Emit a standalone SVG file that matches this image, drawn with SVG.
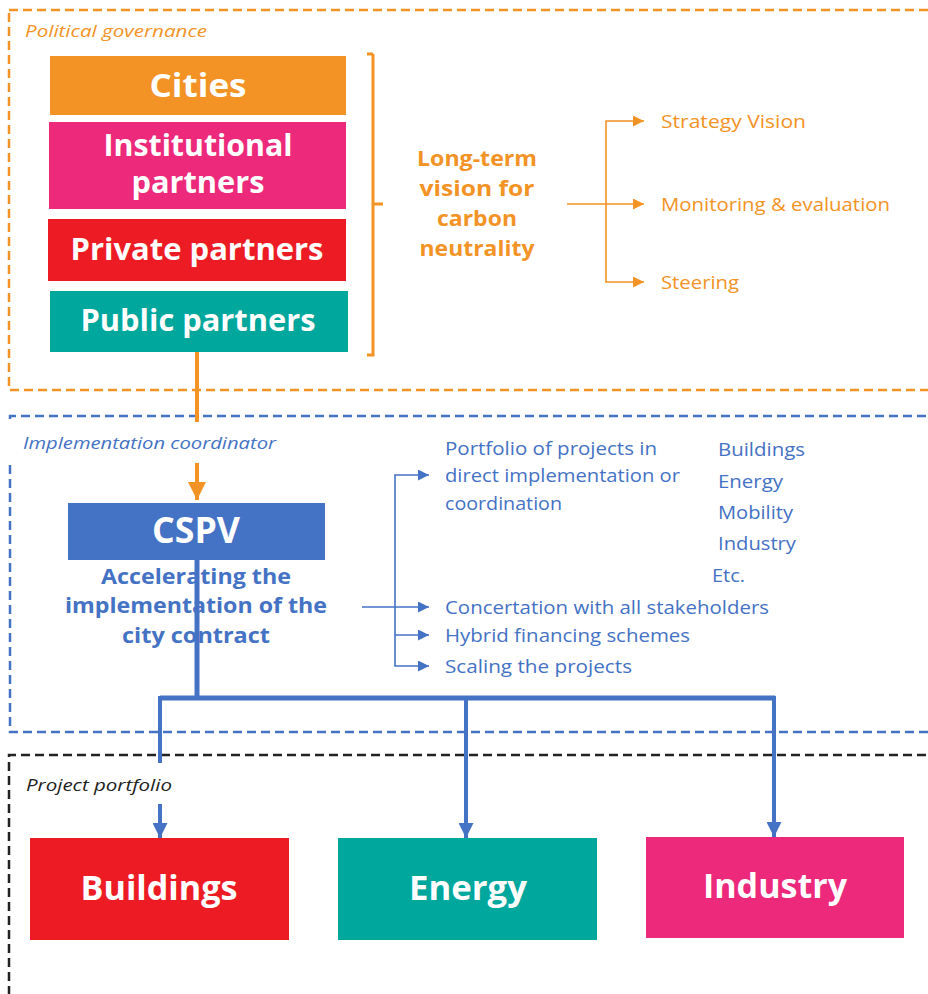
<svg xmlns="http://www.w3.org/2000/svg" width="928" height="994" viewBox="0 0 928 994">
<style>
.bx{font-family:"Open Sans","Liberation Sans",sans-serif;font-weight:700;fill:#fff;text-anchor:middle}
.lbl{font-family:"Open Sans","Liberation Sans",sans-serif;font-style:italic;font-size:17px}
.t{font-family:"Open Sans","Liberation Sans",sans-serif;font-size:18.5px}
.tb{font-family:"Open Sans","Liberation Sans",sans-serif;font-size:21px;font-weight:700;text-anchor:middle}
.or{fill:#f39325}
.bl{fill:#4472c4}
.dash{fill:none;stroke-width:2.5;stroke-dasharray:9 5}
</style>
<defs>
<marker id="ao" viewBox="0 0 10 10" refX="10" refY="5" markerWidth="11" markerHeight="11" markerUnits="userSpaceOnUse" orient="auto-start-reverse"><path d="M0,0 L10,5 L0,10 z" fill="#f39325"/></marker>
<marker id="ab" viewBox="0 0 10 10" refX="10" refY="5" markerWidth="11" markerHeight="11" markerUnits="userSpaceOnUse" orient="auto-start-reverse"><path d="M0,0 L10,5 L0,10 z" fill="#4472c4"/></marker>
<marker id="aob" viewBox="0 0 10 10" refX="10" refY="5" markerWidth="18" markerHeight="18" markerUnits="userSpaceOnUse" orient="auto"><path d="M0,0 L10,5 L0,10 z" fill="#f39325"/></marker>
<marker id="abb" viewBox="0 0 10 10" refX="10" refY="5" markerWidth="15" markerHeight="15" markerUnits="userSpaceOnUse" orient="auto"><path d="M0,0 L10,5 L0,10 z" fill="#4472c4"/></marker>
</defs>

<!-- containers -->
<g id="political-governance">
<rect x="9" y="10" width="935" height="380" class="dash" stroke="#f39325"/>
<text x="25" y="37" class="lbl or" textLength="182" lengthAdjust="spacingAndGlyphs">Political governance</text>
</g>
<g id="implementation-coordinator">
<path d="M940 416 H10 V422 M10 465 V732 H940" class="dash" stroke="#4472c4"/>
<text x="23" y="449" class="lbl bl" textLength="253" lengthAdjust="spacingAndGlyphs">Implementation coordinator</text>
</g>
<g id="project-portfolio">
<path d="M940 755 H9 V1000" class="dash" stroke="#222"/>
<text x="26" y="791" class="lbl" fill="#222" textLength="146" lengthAdjust="spacingAndGlyphs">Project portfolio</text>
</g>

<!-- connectors -->
<g id="connectors" fill="none">
<path d="M197 352 V422" stroke="#f39325" stroke-width="4"/>
<path d="M197 463 V500" stroke="#f39325" stroke-width="4" marker-end="url(#aob)"/>
<path d="M373 54 H367 M373 54 V355 H367 M373 204 H383" stroke="#f39325" stroke-width="3"/>
<path d="M567 204 H644" stroke="#f39325" stroke-width="1.6" marker-end="url(#ao)"/>
<path d="M644 121 H606 V282 H644" stroke="#f39325" stroke-width="1.6" marker-end="url(#ao)" marker-start="url(#ao)"/>
<path d="M362 607 H429" stroke="#4472c4" stroke-width="1.6" marker-end="url(#ab)"/>
<path d="M429 475 H395 V666 H429" stroke="#4472c4" stroke-width="1.6" marker-end="url(#ab)" marker-start="url(#ab)"/>
<path d="M395 635 H429" stroke="#4472c4" stroke-width="1.6" marker-end="url(#ab)"/>
<path d="M197 560 V698" stroke="#4472c4" stroke-width="5"/>
<path d="M160 698 H775" stroke="#4472c4" stroke-width="5"/>
<path d="M160 696 V763" stroke="#4472c4" stroke-width="4"/>
<path d="M160 804 V838" stroke="#4472c4" stroke-width="4" marker-end="url(#abb)"/>
<path d="M466 696 V838" stroke="#4472c4" stroke-width="4" marker-end="url(#abb)"/>
<path d="M774 696 V837" stroke="#4472c4" stroke-width="4" marker-end="url(#abb)"/>
</g>

<!-- nodes -->
<g id="cities">
<rect x="50" y="56" width="296" height="59" fill="#f39325"/>
<text x="198" y="97" class="bx" font-size="33" textLength="97" lengthAdjust="spacingAndGlyphs">Cities</text>
</g>
<g id="institutional-partners">
<rect x="49" y="122" width="297" height="87" fill="#ec297b"/>
<text x="198" y="156" class="bx" font-size="30" textLength="189" lengthAdjust="spacingAndGlyphs">Institutional</text>
<text x="198" y="193" class="bx" font-size="30" textLength="133" lengthAdjust="spacingAndGlyphs">partners</text>
</g>
<g id="private-partners">
<rect x="48" y="219" width="298" height="62" fill="#ed1c24"/>
<text x="197" y="260" class="bx" font-size="30" textLength="253" lengthAdjust="spacingAndGlyphs">Private partners</text>
</g>
<g id="public-partners">
<rect x="50" y="291" width="298" height="61" fill="#00a79d"/>
<text x="198" y="331" class="bx" font-size="30" textLength="235" lengthAdjust="spacingAndGlyphs">Public partners</text>
</g>

<g id="long-term-vision">
<text x="477" y="166" class="tb or" textLength="120" lengthAdjust="spacingAndGlyphs">Long-term</text>
<text x="477" y="196" class="tb or" textLength="115" lengthAdjust="spacingAndGlyphs">vision for</text>
<text x="477" y="226" class="tb or" textLength="80" lengthAdjust="spacingAndGlyphs">carbon</text>
<text x="477" y="256" class="tb or" textLength="115" lengthAdjust="spacingAndGlyphs">neutrality</text>
</g>
<g id="strategy-vision"><text x="661" y="128" class="t or" textLength="145" lengthAdjust="spacingAndGlyphs">Strategy Vision</text></g>
<g id="monitoring"><text x="661" y="211" class="t or" textLength="229" lengthAdjust="spacingAndGlyphs">Monitoring &amp; evaluation</text></g>
<g id="steering"><text x="661" y="289" class="t or" textLength="78" lengthAdjust="spacingAndGlyphs">Steering</text></g>

<g id="cspv">
<rect x="68" y="503" width="257" height="57" fill="#4472c4"/>
<text x="196" y="543" class="bx" font-size="35" textLength="88" lengthAdjust="spacingAndGlyphs">CSPV</text>
</g>
<g id="accelerating">
<text x="196" y="584" class="tb bl" textLength="190" lengthAdjust="spacingAndGlyphs">Accelerating the</text>
<text x="196" y="613" class="tb bl" textLength="262" lengthAdjust="spacingAndGlyphs">implementation of the</text>
<text x="196" y="643" class="tb bl" textLength="148" lengthAdjust="spacingAndGlyphs">city contract</text>
</g>

<g id="portfolio-text">
<text x="445" y="455" class="t bl" textLength="212" lengthAdjust="spacingAndGlyphs">Portfolio of projects in</text>
<text x="445" y="482" class="t bl" textLength="235" lengthAdjust="spacingAndGlyphs">direct implementation or</text>
<text x="445" y="510" class="t bl" textLength="117" lengthAdjust="spacingAndGlyphs">coordination</text>
</g>
<g id="sector-list">
<text x="718" y="456" class="t bl" textLength="87" lengthAdjust="spacingAndGlyphs">Buildings</text>
<text x="718" y="488" class="t bl" textLength="65" lengthAdjust="spacingAndGlyphs">Energy</text>
<text x="718" y="519" class="t bl" textLength="75" lengthAdjust="spacingAndGlyphs">Mobility</text>
<text x="718" y="550" class="t bl" textLength="78" lengthAdjust="spacingAndGlyphs">Industry</text>
<text x="712" y="582" class="t bl" textLength="33" lengthAdjust="spacingAndGlyphs">Etc.</text>
</g>
<g id="concertation"><text x="445" y="614" class="t bl" textLength="324" lengthAdjust="spacingAndGlyphs">Concertation with all stakeholders</text></g>
<g id="hybrid"><text x="445" y="642" class="t bl" textLength="245" lengthAdjust="spacingAndGlyphs">Hybrid financing schemes</text></g>
<g id="scaling"><text x="445" y="673" class="t bl" textLength="187" lengthAdjust="spacingAndGlyphs">Scaling the projects</text></g>

<g id="buildings">
<rect x="30" y="838" width="259" height="102" fill="#ed1c24"/>
<text x="159" y="900" class="bx" font-size="34" textLength="157" lengthAdjust="spacingAndGlyphs">Buildings</text>
</g>
<g id="energy">
<rect x="338" y="838" width="259" height="102" fill="#00a79d"/>
<text x="468" y="900" class="bx" font-size="34" textLength="118" lengthAdjust="spacingAndGlyphs">Energy</text>
</g>
<g id="industry">
<rect x="646" y="837" width="258" height="101" fill="#ec297b"/>
<text x="775" y="898" class="bx" font-size="34" textLength="144" lengthAdjust="spacingAndGlyphs">Industry</text>
</g>
</svg>
